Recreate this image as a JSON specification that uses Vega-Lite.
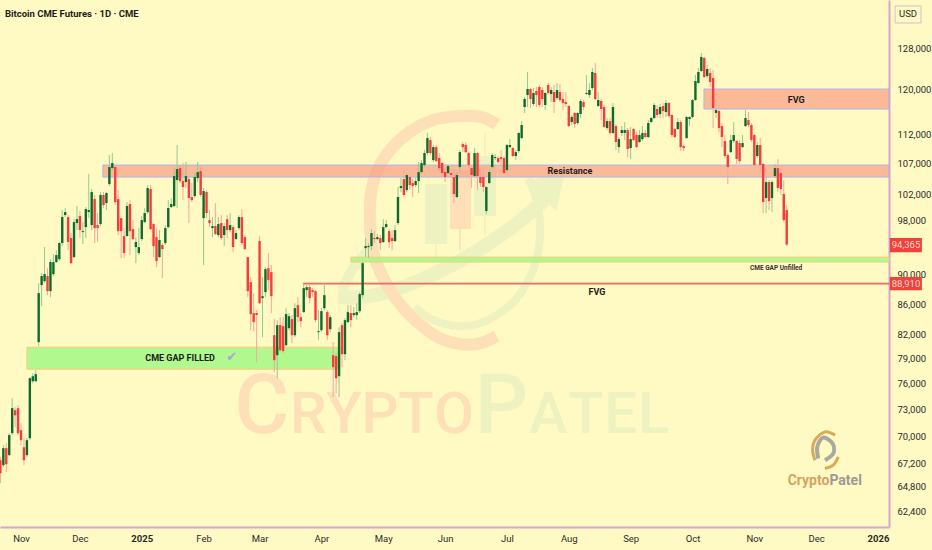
{"$schema":"https://vega.github.io/schema/vega-lite/v6.json","width":889,"height":527,"autosize":{"type":"none"},"padding":{"left":0,"top":0,"right":43,"bottom":23},"background":"#fff9c4","config":{"view":{"stroke":null},"axis":{"grid":false,"ticks":false,"title":null}},
"datasets":{
"candles":[
{"bar":0,"o":67520,"h":67840,"l":65150,"c":66170},{"bar":1,"o":67000,"h":69110,"l":66790,"c":68790},{"bar":2,"o":68790,"h":69330,"l":66270,"c":67100},{"bar":3,"o":68050,"h":70410,"l":67940,"c":70200},{"bar":4,"o":70410,"h":74340,"l":70200,"c":73200},{"bar":5,"o":72970,"h":73310,"l":71070,"c":72410},{"bar":6,"o":73200,"h":73540,"l":70200,"c":70410},{"bar":7,"o":70740,"h":71510,"l":69110,"c":69650},{"bar":8,"o":68890,"h":69870,"l":67000,"c":67520},{"bar":9,"o":68050,"h":69870,"l":67840,"c":69650},
{"bar":10,"o":69870,"h":76800,"l":69650,"c":76680},{"bar":11,"o":76320,"h":77280,"l":76090,"c":76920},{"bar":12,"o":76320,"h":77640,"l":76210,"c":77160},{"bar":13,"o":81090,"h":88880,"l":80590,"c":87500},{"bar":14,"o":88600,"h":90260,"l":85750,"c":89850},{"bar":15,"o":89150,"h":93980,"l":88880,"c":90120},{"bar":16,"o":89850,"h":90960,"l":87230,"c":87770},{"bar":17,"o":87770,"h":92240,"l":86960,"c":91820},{"bar":18,"o":90120,"h":92960,"l":89850,"c":91820},{"bar":19,"o":91820,"h":93540,"l":91670,"c":92820},
{"bar":20,"o":92240,"h":94720,"l":91960,"c":94570},{"bar":21,"o":94570,"h":99540,"l":94130,"c":98460},{"bar":22,"o":98770,"h":99850,"l":98460,"c":99230},{"bar":23,"o":98460,"h":98770,"l":93540,"c":94720},{"bar":24,"o":95310,"h":96050,"l":91530,"c":91670},{"bar":25,"o":92530,"h":98150,"l":92390,"c":97700},{"bar":26,"o":97550,"h":100160,"l":96490,"c":98150},{"bar":27,"o":98620,"h":99390,"l":95310,"c":96490},{"bar":28,"o":96190,"h":97700,"l":94420,"c":96340},{"bar":29,"o":96940,"h":100000,"l":95310,"c":99700},
{"bar":30,"o":99230,"h":105260,"l":98300,"c":99540},{"bar":31,"o":97250,"h":102840,"l":96490,"c":102360},{"bar":32,"o":101250,"h":101890,"l":94570,"c":96790},{"bar":33,"o":97250,"h":99080,"l":94720,"c":96790},{"bar":34,"o":97400,"h":102360,"l":97090,"c":101890},{"bar":35,"o":101890,"h":102360,"l":99850,"c":100310},{"bar":36,"o":100620,"h":102360,"l":99540,"c":102200},{"bar":37,"o":103640,"h":108410,"l":103320,"c":106410},{"bar":38,"o":106240,"h":108750,"l":105910,"c":107070},{"bar":39,"o":106410,"h":106740,"l":100310,"c":100780},
{"bar":40,"o":101250,"h":102680,"l":95750,"c":96340},{"bar":41,"o":98300,"h":98300,"l":92390,"c":96340},{"bar":42,"o":95600,"h":96790,"l":92390,"c":93110},{"bar":43,"o":95600,"h":100780,"l":95450,"c":100160},{"bar":44,"o":100470,"h":101090,"l":92820,"c":96340},{"bar":45,"o":96640,"h":98000,"l":95010,"c":95160},{"bar":46,"o":93980,"h":95450,"l":91670,"c":94720},{"bar":47,"o":93110,"h":96790,"l":92820,"c":93980},{"bar":48,"o":95160,"h":98620,"l":94860,"c":98000},{"bar":49,"o":97700,"h":99850,"l":97550,"c":99080},
{"bar":50,"o":99230,"h":103480,"l":98920,"c":103000},{"bar":51,"o":102840,"h":103480,"l":96490,"c":96640},{"bar":52,"o":97400,"h":97550,"l":92530,"c":94130},{"bar":53,"o":95450,"h":96790,"l":91110,"c":91960},{"bar":54,"o":92530,"h":96490,"l":92390,"c":95010},{"bar":55,"o":94280,"h":94570,"l":89570,"c":93690},{"bar":56,"o":94570,"h":97250,"l":94280,"c":96790},{"bar":57,"o":96940,"h":101090,"l":96790,"c":99850},{"bar":58,"o":100000,"h":101410,"l":99850,"c":100470},{"bar":59,"o":100160,"h":106240,"l":100000,"c":104930},
{"bar":60,"o":104280,"h":110110,"l":99850,"c":106070},{"bar":61,"o":106240,"h":106740,"l":103800,"c":104120},{"bar":62,"o":104120,"h":107070,"l":101090,"c":103160},{"bar":63,"o":103960,"h":107240,"l":103000,"c":104930},{"bar":64,"o":104440,"h":105100,"l":97550,"c":101410},{"bar":65,"o":101570,"h":103800,"l":100780,"c":101090},{"bar":66,"o":101730,"h":105420,"l":101410,"c":104770},{"bar":67,"o":104600,"h":107240,"l":103960,"c":105580},{"bar":68,"o":105750,"h":106740,"l":101570,"c":101890},{"bar":69,"o":98300,"h":103000,"l":91390,"c":102520},
{"bar":70,"o":102360,"h":102680,"l":98300,"c":99080},{"bar":71,"o":98000,"h":99540,"l":96940,"c":97550},{"bar":72,"o":96790,"h":98460,"l":95450,"c":97090},{"bar":73,"o":97090,"h":100620,"l":95750,"c":95900},{"bar":74,"o":95750,"h":98460,"l":95450,"c":97400},{"bar":75,"o":97550,"h":98770,"l":95010,"c":95310},{"bar":76,"o":95750,"h":97550,"l":94130,"c":97090},{"bar":77,"o":98150,"h":98770,"l":95310,"c":96490},{"bar":78,"o":96490,"h":99080,"l":96190,"c":97250},{"bar":79,"o":96940,"h":97250,"l":93250,"c":93980},
{"bar":80,"o":95160,"h":96490,"l":95010,"c":96050},{"bar":81,"o":96790,"h":98770,"l":96490,"c":98460},{"bar":82,"o":98460,"h":99700,"l":94280,"c":94570},{"bar":83,"o":95450,"h":95750,"l":93540,"c":93690},{"bar":84,"o":92530,"h":92530,"l":86960,"c":87770},{"bar":85,"o":89010,"h":89710,"l":82610,"c":84700},{"bar":86,"o":84830,"h":87500,"l":82480,"c":83650},{"bar":87,"o":84830,"h":85220,"l":78610,"c":84570},{"bar":88,"o":94860,"h":95600,"l":86020,"c":86150},{"bar":89,"o":86820,"h":89710,"l":81720,"c":87090},
{"bar":90,"o":87640,"h":91110,"l":86960,"c":90820},{"bar":91,"o":90960,"h":93110,"l":87910,"c":89290},{"bar":92,"o":90400,"h":91390,"l":84830,"c":87090},{"bar":93,"o":81970,"h":84040,"l":77400,"c":78850},{"bar":94,"o":79470,"h":83910,"l":76680,"c":83260},{"bar":95,"o":83260,"h":84300,"l":79840,"c":80090},{"bar":96,"o":83130,"h":84300,"l":79720,"c":79970},{"bar":97,"o":80710,"h":85480,"l":80590,"c":84700},{"bar":98,"o":82870,"h":84830,"l":82610,"c":84430},{"bar":99,"o":84040,"h":84570,"l":80960,"c":81970},
{"bar":100,"o":81970,"h":86150,"l":81720,"c":85480},{"bar":101,"o":85880,"h":86960,"l":83650,"c":84300},{"bar":102,"o":84300,"h":84830,"l":83000,"c":83780},{"bar":103,"o":84960,"h":88740,"l":84830,"c":88180},{"bar":104,"o":87910,"h":88600,"l":86960,"c":88320},{"bar":105,"o":88320,"h":88740,"l":86150,"c":86820},{"bar":106,"o":87910,"h":88180,"l":86960,"c":87640},{"bar":107,"o":87770,"h":87910,"l":83650,"c":83910},{"bar":108,"o":82360,"h":85220,"l":81340,"c":82480},{"bar":109,"o":82610,"h":85480,"l":82360,"c":85090},
{"bar":110,"o":85480,"h":88880,"l":85220,"c":87230},{"bar":111,"o":84960,"h":85220,"l":81340,"c":81970},{"bar":112,"o":82740,"h":84570,"l":82360,"c":84300},{"bar":113,"o":79470,"h":81090,"l":74460,"c":78000},{"bar":114,"o":79350,"h":79720,"l":74920,"c":76680},{"bar":115,"o":76920,"h":83000,"l":74460,"c":82360},{"bar":116,"o":83260,"h":83520,"l":78000,"c":79590},{"bar":117,"o":79590,"h":84160,"l":78850,"c":83910},{"bar":118,"o":83650,"h":85880,"l":83520,"c":84960},{"bar":119,"o":84830,"h":85880,"l":83000,"c":83910},
{"bar":120,"o":84570,"h":85620,"l":84300,"c":84830},{"bar":121,"o":84570,"h":86150,"l":83910,"c":84960},{"bar":122,"o":85090,"h":87640,"l":84830,"c":87370},{"bar":123,"o":87230,"h":91820,"l":86820,"c":91670},{"bar":124,"o":93830,"h":95310,"l":92530,"c":94130},{"bar":125,"o":93980,"h":94570,"l":92390,"c":94130},{"bar":126,"o":94130,"h":96640,"l":93540,"c":96050},{"bar":127,"o":95310,"h":96340,"l":94570,"c":95160},{"bar":128,"o":95160,"h":95900,"l":95010,"c":95450},{"bar":129,"o":95310,"h":95750,"l":93540,"c":94570},
{"bar":130,"o":94720,"h":98150,"l":94570,"c":96940},{"bar":131,"o":96940,"h":98000,"l":96790,"c":97400},{"bar":132,"o":96340,"h":96640,"l":93830,"c":94720},{"bar":133,"o":95310,"h":96490,"l":93540,"c":94860},{"bar":134,"o":94860,"h":97250,"l":94720,"c":96490},{"bar":135,"o":97550,"h":103160,"l":97250,"c":101570},{"bar":136,"o":103000,"h":104600,"l":102360,"c":103320},{"bar":137,"o":104440,"h":105910,"l":101570,"c":101890},{"bar":138,"o":102680,"h":105420,"l":102360,"c":105100},{"bar":139,"o":104770,"h":105100,"l":102680,"c":103480},
{"bar":140,"o":103800,"h":104440,"l":101570,"c":103320},{"bar":141,"o":103480,"h":104600,"l":103160,"c":104120},{"bar":142,"o":104120,"h":107240,"l":102200,"c":105580},{"bar":143,"o":105580,"h":107570,"l":105420,"c":107070},{"bar":144,"o":106740,"h":109250,"l":106410,"c":108750},{"bar":145,"o":108750,"h":112180,"l":108410,"c":111310},{"bar":146,"o":110960,"h":111480,"l":108410,"c":108750},{"bar":147,"o":107570,"h":110110,"l":107240,"c":109760},{"bar":148,"o":109760,"h":110110,"l":107240,"c":107400},{"bar":149,"o":107910,"h":108750,"l":105910,"c":106240},
{"bar":150,"o":107070,"h":107240,"l":104770,"c":105420},{"bar":151,"o":105580,"h":106240,"l":103960,"c":104770},{"bar":152,"o":105420,"h":106910,"l":105260,"c":106570},{"bar":153,"o":105420,"h":105910,"l":104600,"c":105100},{"bar":154,"o":104770,"h":106070,"l":100620,"c":102040},{"bar":155,"o":101570,"h":105580,"l":101410,"c":105100},{"bar":156,"o":106410,"h":109250,"l":105580,"c":108910},{"bar":157,"o":110280,"h":110620,"l":108910,"c":109760},{"bar":158,"o":110110,"h":110620,"l":108750,"c":108910},{"bar":159,"o":108750,"h":108910,"l":106240,"c":106740},
{"bar":160,"o":106240,"h":106740,"l":103000,"c":105100},{"bar":161,"o":104930,"h":109590,"l":104770,"c":108750},{"bar":162,"o":108750,"h":108910,"l":102680,"c":104930},{"bar":163,"o":104770,"h":106410,"l":103160,"c":103800},{"bar":164,"o":104770,"h":106240,"l":102360,"c":103160},{"bar":165,"o":99390,"h":103300,"l":98920,"c":103160},{"bar":166,"o":103800,"h":105910,"l":103640,"c":105580},{"bar":167,"o":106410,"h":108750,"l":106240,"c":108410},{"bar":168,"o":107910,"h":108580,"l":107570,"c":108070},{"bar":169,"o":107910,"h":108240,"l":106910,"c":107240},
{"bar":170,"o":108070,"h":109250,"l":106740,"c":107740},{"bar":171,"o":107910,"h":108240,"l":105260,"c":105420},{"bar":172,"o":105910,"h":110280,"l":105420,"c":110110},{"bar":173,"o":109760,"h":111130,"l":109590,"c":110110},{"bar":174,"o":109590,"h":109760,"l":108070,"c":108240},{"bar":175,"o":108240,"h":109250,"l":107570,"c":108910},{"bar":176,"o":109080,"h":112350,"l":108750,"c":112180},{"bar":177,"o":111310,"h":114280,"l":111130,"c":113580},{"bar":178,"o":116800,"h":118630,"l":115720,"c":118260},{"bar":179,"o":118990,"h":123320,"l":116800,"c":120110},
{"bar":180,"o":120110,"h":120290,"l":116620,"c":118260},{"bar":181,"o":117350,"h":120290,"l":116980,"c":119370},{"bar":182,"o":119740,"h":120480,"l":116800,"c":118990},{"bar":183,"o":120480,"h":120860,"l":116800,"c":117170},{"bar":184,"o":119920,"h":120480,"l":116800,"c":118260},{"bar":185,"o":117170,"h":119550,"l":116260,"c":119370},{"bar":186,"o":120860,"h":121240,"l":118990,"c":119370},{"bar":187,"o":119180,"h":120480,"l":117710,"c":119920},{"bar":188,"o":119550,"h":120860,"l":115720,"c":117710},{"bar":189,"o":118440,"h":121240,"l":118070,"c":119920},
{"bar":190,"o":119550,"h":121050,"l":117710,"c":118070},{"bar":191,"o":118260,"h":119550,"l":116260,"c":117530},{"bar":192,"o":117710,"h":119550,"l":116800,"c":117350},{"bar":193,"o":116980,"h":117170,"l":113230,"c":113400},{"bar":194,"o":114110,"h":115360,"l":113580,"c":115000},{"bar":195,"o":115720,"h":115900,"l":113050,"c":113760},{"bar":196,"o":113930,"h":115900,"l":113580,"c":115720},{"bar":197,"o":115540,"h":118260,"l":114820,"c":117890},{"bar":198,"o":117710,"h":118070,"l":116260,"c":116800},{"bar":199,"o":119180,"h":122750,"l":118990,"c":119370},
{"bar":200,"o":118990,"h":121240,"l":118440,"c":119920},{"bar":201,"o":120290,"h":124090,"l":119920,"c":123320},{"bar":202,"o":123130,"h":125060,"l":118070,"c":118260},{"bar":203,"o":116980,"h":119550,"l":116800,"c":118070},{"bar":204,"o":117890,"h":118260,"l":114460,"c":116440},{"bar":205,"o":116800,"h":117170,"l":113050,"c":113230},{"bar":206,"o":113050,"h":114820,"l":112700,"c":114280},{"bar":207,"o":114280,"h":114820,"l":111830,"c":112180},{"bar":208,"o":112180,"h":117530,"l":112000,"c":116800},{"bar":209,"o":113400,"h":113760,"l":109250,"c":110620},
{"bar":210,"o":109760,"h":111480,"l":108750,"c":111130},{"bar":211,"o":112180,"h":113400,"l":111660,"c":112700},{"bar":212,"o":112180,"h":114110,"l":110960,"c":112700},{"bar":213,"o":112700,"h":113050,"l":108070,"c":109420},{"bar":214,"o":109590,"h":113230,"l":107740,"c":111130},{"bar":215,"o":112880,"h":113050,"l":110790,"c":110960},{"bar":216,"o":111830,"h":112350,"l":109600,"c":109760},{"bar":217,"o":110620,"h":112700,"l":110450,"c":111830},{"bar":218,"o":111130,"h":113400,"l":110790,"c":112180},{"bar":219,"o":112180,"h":112700,"l":111310,"c":111480},
{"bar":220,"o":111480,"h":114460,"l":111310,"c":113930},{"bar":221,"o":114110,"h":115000,"l":113930,"c":114820},{"bar":222,"o":114820,"h":117530,"l":114640,"c":117170},{"bar":223,"o":116440,"h":117170,"l":114820,"c":115360},{"bar":224,"o":115540,"h":117350,"l":114820,"c":116800},{"bar":225,"o":116980,"h":117530,"l":114820,"c":116080},{"bar":226,"o":115900,"h":118070,"l":115000,"c":117530},{"bar":227,"o":117530,"h":117710,"l":114820,"c":115180},{"bar":228,"o":115360,"h":115540,"l":111480,"c":111830},{"bar":229,"o":112880,"h":113050,"l":111310,"c":111480},
{"bar":230,"o":112880,"h":114820,"l":112700,"c":114110},{"bar":231,"o":114110,"h":114460,"l":109080,"c":109760},{"bar":232,"o":109930,"h":110110,"l":109080,"c":109590},{"bar":233,"o":111310,"h":115180,"l":111130,"c":115000},{"bar":234,"o":114640,"h":115180,"l":113400,"c":115000},{"bar":235,"o":115000,"h":118260,"l":114820,"c":118070},{"bar":236,"o":118070,"h":122750,"l":117890,"c":121610},{"bar":237,"o":121240,"h":124090,"l":121050,"c":123320},{"bar":238,"o":123510,"h":127010,"l":123320,"c":126230},{"bar":239,"o":126030,"h":126230,"l":122170,"c":122360},
{"bar":240,"o":122550,"h":124670,"l":122170,"c":123890},{"bar":241,"o":123130,"h":124090,"l":120480,"c":121420},{"bar":242,"o":122170,"h":123700,"l":113050,"c":116620},{"bar":243,"o":115720,"h":116440,"l":114820,"c":116260},{"bar":244,"o":116080,"h":116260,"l":112350,"c":113050},{"bar":245,"o":113400,"h":113930,"l":109760,"c":111480},{"bar":246,"o":110790,"h":111830,"l":107910,"c":108240},{"bar":247,"o":108410,"h":108750,"l":103640,"c":106410},{"bar":248,"o":108910,"h":111830,"l":108750,"c":110960},{"bar":249,"o":110790,"h":114110,"l":110450,"c":111830},
{"bar":250,"o":110790,"h":110960,"l":106910,"c":107740},{"bar":251,"o":110450,"h":110960,"l":106910,"c":107400},{"bar":252,"o":109760,"h":111830,"l":109590,"c":110450},{"bar":253,"o":113400,"h":116260,"l":113230,"c":114820},{"bar":254,"o":114460,"h":115900,"l":113230,"c":113580},{"bar":255,"o":113580,"h":113930,"l":110620,"c":110960},{"bar":256,"o":111830,"h":112000,"l":106570,"c":106740},{"bar":257,"o":108240,"h":110620,"l":107910,"c":110110},{"bar":258,"o":110110,"h":111310,"l":105580,"c":106740},{"bar":259,"o":106910,"h":107070,"l":99080,"c":100780},
{"bar":260,"o":101410,"h":104770,"l":99080,"c":103960},{"bar":261,"o":103960,"h":104280,"l":99540,"c":100930},{"bar":262,"o":101410,"h":104280,"l":99230,"c":103960},{"bar":263,"o":104930,"h":106910,"l":104600,"c":106240},{"bar":264,"o":106240,"h":107740,"l":102360,"c":103000},{"bar":265,"o":105420,"h":105580,"l":101890,"c":102840},{"bar":266,"o":102040,"h":104280,"l":97700,"c":98000},{"bar":267,"o":99540,"h":100310,"l":94130,"c":94365}
],
"zones":[
{"kind":"red","bar":34.8,"bar2":301.73,"p":106740,"p2":104770},
{"kind":"red","bar":238.9,"bar2":301.73,"p":120110,"p2":116440},
{"kind":"green","bar":9,"bar2":115.3,"p":80460,"p2":77760},
{"kind":"green","bar":119,"bar2":301.73,"p":92530,"p2":91820},
{"kind":"line","bar":102.8,"bar2":301.73,"p":88900,"p2":88720},
{"kind":"tag","bar":302,"bar2":312.9,"p":95310,"p2":93250},
{"kind":"tag","bar":302,"bar2":312.9,"p":89710,"p2":87910},
{"kind":"box","bar":303.8,"bar2":312.6,"p":136630,"p2":133070},
{"kind":"wm-orange","bar":152.7,"bar2":159.8,"p":105910,"p2":96640},
{"kind":"wm-green","bar":144.2,"bar2":151.7,"p":103640,"p2":94420},
{"kind":"wm-green","bar":160.8,"bar2":168.3,"p":108240,"p2":98620}
],
"wmwicks":[
{"kind":"g","bar":147.9,"p":94420,"p2":91820},
{"kind":"o","bar":156,"p":96640,"p2":93540},
{"kind":"g","bar":164.6,"p":112180,"p2":108240},
{"kind":"g","bar":164.6,"p":98620,"p2":95750}
],
"paths":[
{"s":"orange","k":1,"bar":168.5,"p":113700},{"s":"orange","k":2,"bar":162.9,"p":115050},{"s":"orange","k":3,"bar":154.9,"p":115130},{"s":"orange","k":4,"bar":147,"p":114460},{"s":"orange","k":5,"bar":139.1,"p":112400},{"s":"orange","k":6,"bar":132.3,"p":109250},{"s":"orange","k":7,"bar":127.8,"p":105630},{"s":"orange","k":8,"bar":125.7,"p":101600},{"s":"orange","k":9,"bar":125.5,"p":97500},{"s":"orange","k":10,"bar":126.4,"p":93540},{"s":"orange","k":11,"bar":129.5,"p":89980},{"s":"orange","k":12,"bar":134.6,"p":86550},{"s":"orange","k":13,"bar":141.4,"p":83690},{"s":"orange","k":14,"bar":149.3,"p":81560},{"s":"orange","k":15,"bar":157.2,"p":80800},{"s":"orange","k":16,"bar":162.9,"p":80930},{"s":"orange","k":17,"bar":168.5,"p":81850},
{"s":"garc","k":1,"bar":140.8,"p":85650},{"s":"garc","k":2,"bar":145.9,"p":84130},{"s":"garc","k":3,"bar":152.7,"p":83260},{"s":"garc","k":4,"bar":160.6,"p":83260},{"s":"garc","k":5,"bar":168.5,"p":84570},{"s":"garc","k":6,"bar":175.3,"p":86780},{"s":"garc","k":7,"bar":180.4,"p":90220},{"s":"garc","k":8,"bar":182.9,"p":94030},{"s":"garc","k":9,"bar":183.2,"p":97500},{"s":"garc","k":10,"bar":182.1,"p":101090},{"s":"garc","k":11,"bar":179.3,"p":104550},
{"s":"swoosh","k":1,"bar":114.6,"p":86960},{"s":"swoosh","k":2,"bar":127.2,"p":87230},{"s":"swoosh","k":3,"bar":142.5,"p":89290},{"s":"swoosh","k":4,"bar":159.5,"p":92820},{"s":"swoosh","k":5,"bar":174.7,"p":97250},{"s":"swoosh","k":6,"bar":186.6,"p":101890},
{"s":"lobe","k":1,"bar":116,"p":87910},{"s":"lobe","k":2,"bar":119.4,"p":90680},{"s":"lobe","k":3,"bar":124.8,"p":93540},
{"s":"gold1","k":1,"bar":283.4,"p":70200},{"s":"gold1","k":2,"bar":280,"p":70550},{"s":"gold1","k":3,"bar":276.6,"p":69650},{"s":"gold1","k":4,"bar":275.8,"p":68570},{"s":"gold1","k":5,"bar":276.6,"p":67520},
{"s":"gold2","k":1,"bar":284.5,"p":67870},{"s":"gold2","k":2,"bar":282.8,"p":67000},{"s":"gold2","k":3,"bar":280,"p":66660},
{"s":"gray","k":1,"bar":277.7,"p":67700},{"s":"gray","k":2,"bar":277.4,"p":68930},{"s":"gray","k":3,"bar":279.4,"p":69940},{"s":"gray","k":4,"bar":282.6,"p":69290},{"s":"gray","k":5,"bar":282.8,"p":68220},{"s":"gray","k":6,"bar":280,"p":67520}
],
"letters":[
{"t":"C","part":"o","big":true,"bar":88.8,"p":70410},{"t":"R","part":"o","big":false,"bar":104.5,"p":70410},{"t":"Y","part":"o","big":false,"bar":116.7,"p":70410},{"t":"P","part":"o","big":false,"bar":128.9,"p":70410},{"t":"T","part":"o","big":false,"bar":141.1,"p":70410},{"t":"O","part":"o","big":false,"bar":154,"p":70410},
{"t":"P","part":"g","big":true,"bar":170.2,"p":70410},{"t":"A","part":"g","big":false,"bar":186,"p":70410},{"t":"T","part":"g","big":false,"bar":198.7,"p":70410},{"t":"E","part":"g","big":false,"bar":210.6,"p":70410},{"t":"L","part":"g","big":false,"bar":221.8,"p":70410}
],
"labels":[
{"t":"Resistance","bar":193.4,"p":105750},{"t":"FVG","bar":270.2,"p":118070},{"t":"FVG","bar":202.6,"p":87640},{"t":"CME GAP FILLED","bar":61,"p":79090}
],
"tags":[
{"t":"94,365","bar":307.5,"p":94280},{"t":"88,910","bar":307.5,"p":88800}
]
},
"encoding":{
"x":{"field":"bar","type":"quantitative","scale":{"domain":[-0.136,301.73],"nice":false,"zero":false,"padding":0},"axis":{"orient":"bottom","values":[7,27,48,69,88,109,130,151,172,193,214,235,256,277,298],"labelExpr":"{'7':'Nov','27':'Dec','48':'2025','69':'Feb','88':'Mar','109':'Apr','130':'May','151':'Jun','172':'Jul','193':'Aug','214':'Sep','235':'Oct','256':'Nov','277':'Dec','298':'2026'}[datum.value]","labelFont":"Roboto","labelFontSize":9.5,"labelColor":"#2b2b2b","labelPadding":6,"labelFontWeight":{"condition":{"test":"datum.value===48||datum.value===298","value":"bold"},"value":"normal"},"domainColor":"#d6a6cf","domainWidth":2,"labelOverlap":false,"labelFlush":false,"labelBound":false}},
"y":{"field":"p","type":"quantitative","scale":{"type":"log","domain":[60870,137900],"nice":false},"axis":{"orient":"right","values":[128000,120000,112000,107000,102000,98000,90000,86000,82000,79000,76000,73000,70000,67200,64800,62400],"format":",d","labelFont":"Roboto","labelFontSize":9.5,"labelColor":"#2b2b2b","labelPadding":8,"domainColor":"#d6a6cf","domainWidth":2,"labelOverlap":false,"labelFlush":false,"labelBound":false}}
},
"layer":[
{"data":{"name":"letters"},"mark":{"type":"text","font":"Roboto","fontWeight":500,"baseline":"alphabetic","align":"center"},"encoding":{"text":{"field":"t"},"size":{"condition":{"test":"datum.big","value":84},"value":58},"color":{"field":"part","type":"nominal","scale":{"domain":["o","g"],"range":["#fde0b8","#eef2c0"]},"legend":null}}},
{"data":{"name":"zones"},"transform":[{"filter":"datum.kind==='wm-orange'"}],"mark":{"type":"rect","color":"#fde0b8"},"encoding":{"x2":{"field":"bar2"},"y2":{"field":"p2"}}},
{"data":{"name":"zones"},"transform":[{"filter":"datum.kind==='wm-green'"}],"mark":{"type":"rect","color":"#eef2c0"},"encoding":{"x2":{"field":"bar2"},"y2":{"field":"p2"}}},
{"data":{"name":"wmwicks"},"mark":{"type":"rule","strokeWidth":1.5},"encoding":{"y2":{"field":"p2"},"color":{"field":"kind","type":"nominal","scale":{"domain":["o","g"],"range":["#fde0b8","#eef2c0"]},"legend":null}}},
{"data":{"name":"paths"},"transform":[{"filter":"datum.s==='garc'"}],"mark":{"type":"line","color":"#eef2c0","strokeWidth":8,"interpolate":"cardinal"},"encoding":{"order":{"field":"k"}}},
{"data":{"name":"paths"},"transform":[{"filter":"datum.s==='swoosh'"}],"mark":{"type":"line","color":"#eef2c0","strokeWidth":14,"interpolate":"cardinal"},"encoding":{"order":{"field":"k"}}},
{"data":{"name":"paths"},"transform":[{"filter":"datum.s==='lobe'"}],"mark":{"type":"line","color":"#eef2c0","strokeWidth":10,"interpolate":"cardinal"},"encoding":{"order":{"field":"k"}}},
{"data":{"values":[{"bar":187.6,"p":103800}]},"mark":{"type":"point","shape":"triangle-up","filled":true,"color":"#eef2c0","opacity":1,"size":1800,"angle":42}},
{"data":{"name":"paths"},"transform":[{"filter":"datum.s==='orange'"}],"mark":{"type":"line","color":"#fde0b8","strokeWidth":12,"interpolate":"cardinal"},"encoding":{"order":{"field":"k"}}},
{"data":{"name":"paths"},"transform":[{"filter":"datum.s==='gold1'||datum.s==='gold2'"}],"mark":{"type":"line","color":"#d9a95c","strokeWidth":3,"interpolate":"cardinal"},"encoding":{"order":{"field":"k"},"detail":{"field":"s"}}},
{"data":{"name":"paths"},"transform":[{"filter":"datum.s==='gray'"}],"mark":{"type":"line","color":"#a9a9a0","strokeWidth":4,"interpolate":"cardinal"},"encoding":{"order":{"field":"k"}}},
{"data":{"values":[{"t":"Crypto","bar":281.5,"p":64940}]},"mark":{"type":"text","font":"Roboto","fontWeight":"bold","fontSize":14,"align":"right","baseline":"alphabetic","color":"#d9a35e"},"encoding":{"text":{"field":"t"}}},
{"data":{"values":[{"t":"Patel","bar":281.5,"p":64940}]},"mark":{"type":"text","font":"Roboto","fontWeight":"bold","fontSize":14,"align":"left","baseline":"alphabetic","color":"#9a9a96"},"encoding":{"text":{"field":"t"}}},
{"data":{"name":"zones"},"transform":[{"filter":"datum.kind==='red'"}],"mark":{"type":"rect","fill":"#fa8e7a","fillOpacity":0.6,"stroke":"#a8b8e8","strokeWidth":1},"encoding":{"x2":{"field":"bar2"},"y2":{"field":"p2"}}},
{"data":{"name":"zones"},"transform":[{"filter":"datum.kind==='green'"}],"mark":{"type":"rect","fill":"#a8f78a","fillOpacity":0.9,"stroke":"#f5ce78","strokeWidth":1},"encoding":{"x2":{"field":"bar2"},"y2":{"field":"p2"}}},
{"data":{"name":"zones"},"transform":[{"filter":"datum.kind==='line'"}],"mark":{"type":"rect","fill":"#ec6f68","stroke":"#ec6f68","strokeWidth":0.5},"encoding":{"x2":{"field":"bar2"},"y2":{"field":"p2"}}},
{"data":{"name":"candles"},"mark":{"type":"rule","strokeWidth":1},"encoding":{"y":{"field":"h","type":"quantitative","scale":{"type":"log","domain":[60870,137900],"nice":false}},"y2":{"field":"l"},"color":{"condition":{"test":"datum.c>=datum.o","value":"#8fcb8f"},"value":"#f6a69c"}}},
{"data":{"name":"candles"},"mark":{"type":"bar","size":2.4,"orient":"vertical"},"encoding":{"y":{"field":"o","type":"quantitative","scale":{"type":"log","domain":[60870,137900],"nice":false}},"y2":{"field":"c"},"color":{"condition":{"test":"datum.c>=datum.o","value":"#0e6b2b"},"value":"#f73c3c"}}},
{"data":{"name":"labels"},"mark":{"type":"text","font":"Roboto","fontWeight":"bold","fontSize":9,"color":"#1c1c1c"},"encoding":{"text":{"field":"t"}}},
{"data":{"values":[{"t":"✔","bar":78.5,"p":79220}]},"mark":{"type":"text","font":"DejaVu Sans","fontSize":13,"color":"#aaa5da"},"encoding":{"text":{"field":"t"}}},
{"data":{"values":[{"t":"CME GAP Unfilled","bar":263.4,"p":90960}]},"mark":{"type":"text","font":"Roboto","fontWeight":"bold","fontSize":6.5,"color":"#333333"},"encoding":{"text":{"field":"t"}}},
{"data":{"values":[{"t":"Bitcoin CME Futures · 1D · CME","bar":1.56,"p":134940}]},"mark":{"type":"text","font":"Roboto","fontWeight":"bold","fontSize":9.5,"align":"left","color":"#1c1c1c"},"encoding":{"text":{"field":"t"}}},
{"data":{"name":"zones"},"transform":[{"filter":"datum.kind==='tag'"}],"mark":{"type":"rect","fill":"#f2403a"},"encoding":{"x2":{"field":"bar2"},"y2":{"field":"p2"}}},
{"data":{"name":"tags"},"mark":{"type":"text","font":"Roboto","fontSize":9.5,"color":"#fdd9cc"},"encoding":{"text":{"field":"t"}}},
{"data":{"name":"zones"},"transform":[{"filter":"datum.kind==='box'"}],"mark":{"type":"rect","fill":"#fff9c4","stroke":"#d9bccf","strokeWidth":1},"encoding":{"x2":{"field":"bar2"},"y2":{"field":"p2"}}},
{"data":{"values":[{"t":"USD","bar":308.2,"p":134940}]},"mark":{"type":"text","font":"Roboto","fontSize":9.5,"color":"#2b2b2b"},"encoding":{"text":{"field":"t"}}}
]
}
